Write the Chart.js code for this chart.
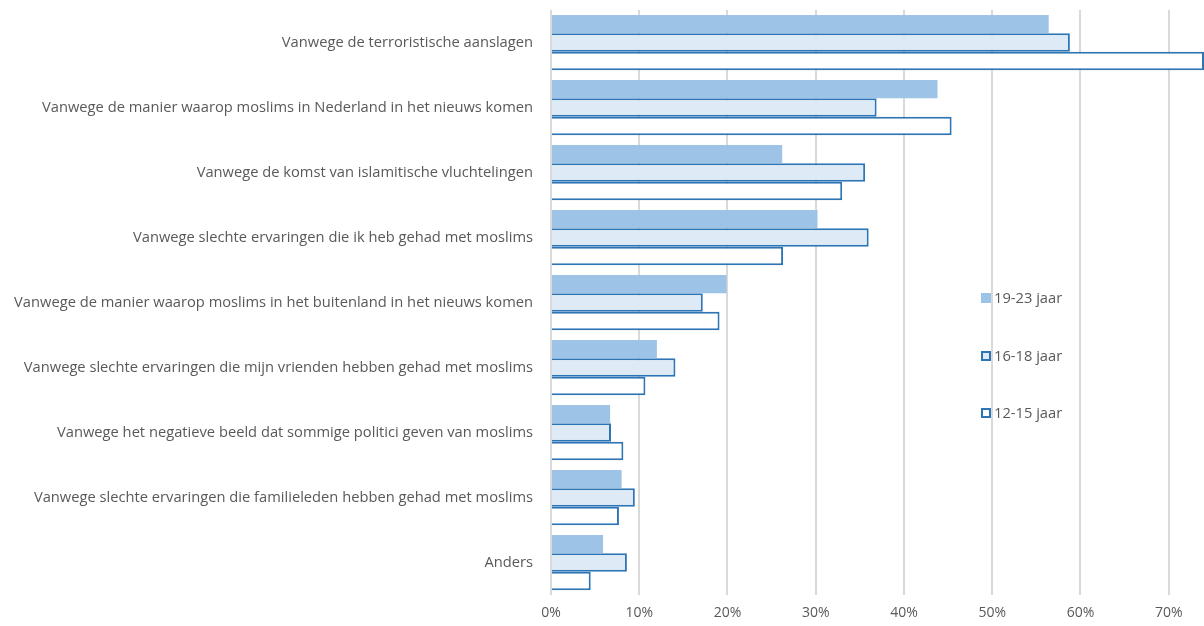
<!DOCTYPE html>
<html>
<head>
<meta charset="utf-8">
<script src="https://cdn.jsdelivr.net/npm/chart.js@4"></script>
<style>
  html, body { margin: 0; padding: 0; background: #fff; }
  #wrap { width: 1204px; height: 626px; position: relative; }
</style>
</head>
<body>
<div id="wrap"><canvas id="chart"></canvas></div>
<script>
const categories = [
    'Vanwege de terroristische aanslagen',
    'Vanwege de manier waarop moslims in Nederland in het nieuws komen',
    'Vanwege de komst van islamitische vluchtelingen',
    'Vanwege slechte ervaringen die ik heb gehad met moslims',
    'Vanwege de manier waarop moslims in het buitenland in het nieuws komen',
    'Vanwege slechte ervaringen die mijn vrienden hebben gehad met moslims',
    'Vanwege het negatieve beeld dat sommige politici geven van moslims',
    'Vanwege slechte ervaringen die familieleden hebben gehad met moslims',
    'Anders'
];
const seriesNames = ['19-23 jaar', '16-18 jaar', '12-15 jaar'];
const age19_23 = [56.4, 43.8, 26.2, 30.2, 19.9, 12.0, 6.7, 8.0, 5.9];
const age16_18 = [58.8, 36.9, 35.6, 36.0, 17.2, 14.1, 6.8, 9.5, 8.6];
const age12_15 = [74.0, 45.4, 33.0, 26.3, 19.1, 10.7, 8.2, 7.7, 4.5];
const xTicks = [0, 10, 20, 30, 40, 50, 60, 70];

const textColor = '#595959';
const fontFamily = "'Open Sans', 'Liberation Sans', sans-serif";

// legend drawn inside the plot area, like the original
const insideLegend = {
    id: 'insideLegend',
    afterDraw(chart) {
        const ctx = chart.ctx;
        const rows = [298, 356, 413];
        ctx.save();
        ctx.font = '14.7px ' + fontFamily;
        ctx.textBaseline = 'middle';
        chart.data.datasets.forEach((ds, i) => {
            const y = rows[i];
            const x = 981;
            ctx.fillStyle = ds.backgroundColor;
            ctx.fillRect(x, y - 5, 10, 10);
            if (ds.borderWidth > 0) {
                ctx.strokeStyle = ds.borderColor;
                ctx.lineWidth = 2;
                ctx.strokeRect(x + 1, y - 4, 8, 8);
            }
            ctx.fillStyle = textColor;
            ctx.fillText(ds.label, x + 13, y + 1);
        });
        ctx.restore();
    }
};

new Chart(document.getElementById('chart'), {
    type: 'bar',
    data: {
        labels: categories,
        datasets: [{
            label: seriesNames[0],
            data: age19_23,
            backgroundColor: '#9DC3E6',
            borderWidth: 0
        }, {
            label: seriesNames[1],
            data: age16_18,
            backgroundColor: '#DEEBF7',
            borderColor: '#2E75B6',
            borderWidth: 2
        }, {
            label: seriesNames[2],
            data: age12_15,
            backgroundColor: '#FFFFFF',
            borderColor: '#2E75B6',
            borderWidth: 2
        }]
    },
    options: {
        indexAxis: 'y',
        responsive: true,
        maintainAspectRatio: false,
        animation: false,
        layout: { padding: { top: 10, right: 0, left: 0, bottom: 0 } },
        datasets: {
            bar: { categoryPercentage: 0.85, barPercentage: 1.0 }
        },
        scales: {
            x: {
                min: 0,
                max: 74,
                afterFit: (s) => { s.height = 31; },
                afterBuildTicks: (s) => { s.ticks = xTicks.map(v => ({ value: v })); },
                ticks: {
                    color: textColor,
                    font: { family: fontFamily, size: 14 },
                    padding: 10,
                    callback: (v) => v + '%'
                },
                grid: { color: '#D9D9D9', lineWidth: 2, drawTicks: false },
                border: { display: false }
            },
            y: {
                afterFit: (s) => { s.width = 551; },
                ticks: {
                    color: textColor,
                    font: { family: fontFamily, size: 14.7 },
                    padding: 0
                },
                grid: { display: false, drawTicks: true, tickLength: 18 },
                border: { display: false }
            }
        },
        plugins: {
            legend: { display: false },
            tooltip: { enabled: false }
        }
    },
    plugins: [insideLegend]
});
</script>
</body>
</html>
